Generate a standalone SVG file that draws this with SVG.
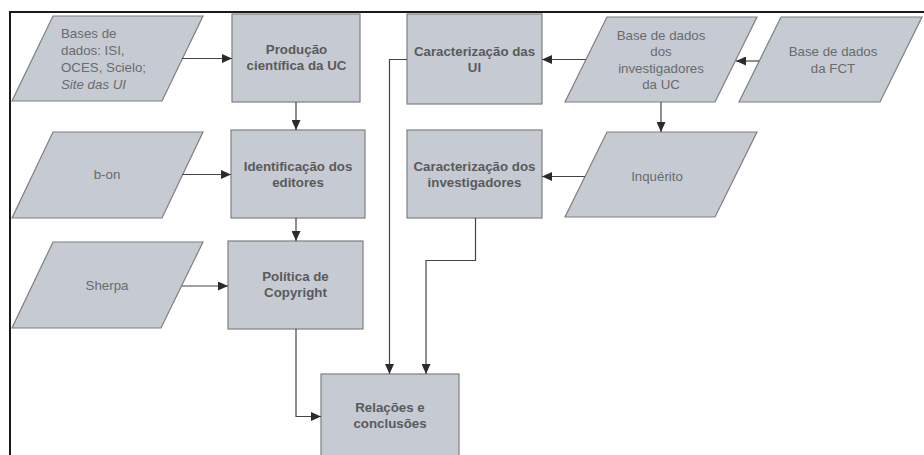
<svg xmlns="http://www.w3.org/2000/svg" width="924" height="455" viewBox="0 0 924 455">
<defs>
<marker id="ah" markerWidth="10" markerHeight="9" refX="10" refY="4.5" orient="auto" markerUnits="userSpaceOnUse">
<path d="M0,0 L10,4.5 L0,9 z" fill="#2b2b2b"/>
</marker>
<style>
.shape{fill:#c5cad3;stroke:#7f7f7f;stroke-width:1.2}
.b{font-family:"Liberation Sans",Arial,sans-serif;font-size:13.3px;font-weight:bold;fill:#5a5a5a;text-anchor:middle}
.r{font-family:"Liberation Sans",Arial,sans-serif;font-size:13.3px;fill:#6b6b6b;text-anchor:middle}
.conn{fill:none;stroke:#444;stroke-width:1.2}
.conn path{marker-end:url(#ah)}
</style>
</defs>
<rect width="924" height="455" fill="#ffffff"/>
<path d="M10,455 V12 H924" fill="none" stroke="#1a1a1a" stroke-width="2"/>

<g id="bases">
<polygon class="shape" points="53,16 203,16 162,101 12,101"/>
<text class="r" style="text-anchor:start" x="61" y="38">Bases de</text>
<text class="r" style="text-anchor:start" x="61" y="55">dados: ISI,</text>
<text class="r" style="text-anchor:start" x="61" y="72">OCES, Scielo;</text>
<text class="r" style="text-anchor:start;font-style:italic" x="61" y="89">Site das UI</text>
</g>
<g id="producao">
<rect class="shape" x="232" y="14" width="128" height="88"/>
<text class="b" x="296.5" y="53.5">Produção</text>
<text class="b" x="296.5" y="69.5">científica da UC</text>
</g>
<g id="bon">
<polygon class="shape" points="53,132 203,132 162,218 12,218"/>
<text class="r" x="107" y="178.5">b-on</text>
</g>
<g id="identificacao">
<rect class="shape" x="231" y="130" width="134" height="88"/>
<text class="b" x="298" y="171">Identificação dos</text>
<text class="b" x="298" y="187">editores</text>
</g>
<g id="sherpa">
<polygon class="shape" points="53,242 203,242 161,328 12,328"/>
<text class="r" x="107" y="290">Sherpa</text>
</g>
<g id="politica">
<rect class="shape" x="228" y="241" width="135" height="88"/>
<text class="b" x="295.5" y="281">Política de</text>
<text class="b" x="295.5" y="297">Copyright</text>
</g>
<g id="relacoes">
<rect class="shape" x="321" y="374" width="138" height="88"/>
<text class="b" x="390" y="411.5">Relações e</text>
<text class="b" x="390" y="428">conclusões</text>
</g>
<g id="carUI">
<rect class="shape" x="407" y="14" width="135" height="90"/>
<text class="b" x="474.5" y="56">Caracterização das</text>
<text class="b" x="474.5" y="72">UI</text>
</g>
<g id="carInv">
<rect class="shape" x="407" y="130" width="135" height="88"/>
<text class="b" x="474.5" y="171">Caracterização dos</text>
<text class="b" x="474.5" y="187">investigadores</text>
</g>
<g id="bdInv">
<polygon class="shape" points="607,17 757,17 715,102 565,102"/>
<text class="r" x="661" y="39.5">Base de dados</text>
<text class="r" x="661" y="56">dos</text>
<text class="r" x="661" y="72.5">investigadores</text>
<text class="r" x="661" y="89">da UC</text>
</g>
<g id="bdFCT">
<polygon class="shape" points="781,17 922,17 880,102 739,102"/>
<text class="r" x="833" y="56">Base de dados</text>
<text class="r" x="833" y="72.5">da FCT</text>
</g>
<g id="inquerito">
<polygon class="shape" points="607,132 757,132 715,217 565,217"/>
<text class="r" x="657" y="180.5">Inquérito</text>
</g>

<g id="connectors" class="conn">
<path d="M182,58.5 H232"/>
<path d="M182,174.5 H231"/>
<path d="M182,286 H228"/>
<path d="M296,102 V130"/>
<path d="M296,218 V241"/>
<path d="M296,329 V416.5 H321"/>
<path d="M407,59.5 H389.5 V374"/>
<path d="M475.5,218 V260.5 H426 V374"/>
<path d="M586,59.5 H542"/>
<path d="M759,61 H736"/>
<path d="M661,102 V132"/>
<path d="M585,176.5 H542"/>
</g>
</svg>
